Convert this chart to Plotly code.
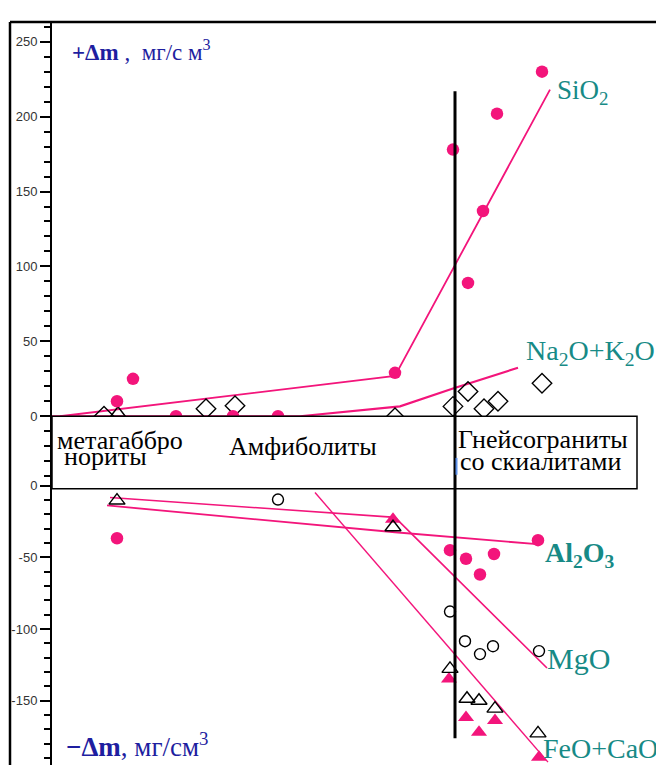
import plotly.graph_objects as go

W, H = 664, 765
OFF = 8  # page body margin of the browser
PINK = "#f3157b"
TEAL = "#178a86"
BLUE = "#1e1ea0"
SERIF = "Liberation Serif"

# ---------------- data (x = position along the profile, arbitrary units) ----------------
# upper panel: gains, +Δm (mg/cm3)
sio2_x = [65, 81, 124, 181, 226, 343, 401, 416, 431, 445, 490]
sio2_y = [10, 25, 0, 0, 0, 29, 178, 89, 137, 202, 230]
sio2_trend_x = [8, 343, 498]
sio2_trend_y = [0, 27, 218]

alk_x = [52, 154, 183, 343, 401, 416, 432, 446, 490]
alk_y = [0, 5, 7, -1, 6.6, 16.5, 5, 10, 22]
alk_trend_x = [0, 248, 348, 401, 466]
alk_trend_y = [0, 0, 6.6, 18.5, 32.4]

feo_up_x = [66]
feo_up_y = [2]

# lower panel: losses, -Δm (mg/cm3)
al2o3_x = [65, 398, 414, 428, 442, 486]
al2o3_y = [-36.7, -45, -51, -62, -47.7, -38]
al2o3_trend_x = [55, 343, 485]
al2o3_trend_y = [-13.8, -32.5, -40.8]

mgo_x = [226, 398, 413, 428, 441, 487]
mgo_y = [-9.7, -87.8, -108.5, -117.5, -112, -115.4]
mgo_trend_x = [58, 343, 495]
mgo_trend_y = [-8.3, -22.1, -127.2]

feo_open_x = [65, 341, 398, 415, 427, 443, 486]
feo_open_y = [-10.4, -29, -127.8, -148.6, -150, -155.5, -172.8]
feo_fill_x = [341, 397, 414, 427, 443, 487]
feo_fill_y = [-23.5, -134.8, -161.7, -172, -163.8, -189.4]
feo_trend_x = [263, 496]
feo_trend_y = [-4.8, -192.8]

BOUNDARY_X = 403

up_ticks = [0, 50, 100, 150, 200, 250]
up_ticktext = ["0", "50", "100", "150", "200", "250"]
low_ticks = [0, -50, -100, -150, -200]
low_ticktext = ["0", "-50", "-100", "-150", "-200"]

# ---------------- figure ----------------
def px(x):
    return (x - OFF) / W

def py(y):
    return 1 - (y - OFF) / H

fig = go.Figure()

def line(x, y, ya, width=1.6):
    fig.add_trace(go.Scatter(x=x, y=y, yaxis=ya, mode="lines",
                             line=dict(color=PINK, width=width), hoverinfo="skip"))

def pts(x, y, ya, symbol, color, size, lw=1.4):
    fig.add_trace(go.Scatter(x=x, y=y, yaxis=ya, mode="markers", cliponaxis=False,
                             marker=dict(symbol=symbol, color=color, size=size,
                                         line=dict(color=color, width=lw))))

# upper
line(alk_trend_x, alk_trend_y, "y", 2.2)
line(sio2_trend_x, sio2_trend_y, "y", 1.8)
pts(alk_x, alk_y, "y", "diamond-open", "black", 15)
pts(feo_up_x, feo_up_y, "y", "triangle-up-open", "black", 13)
pts(sio2_x, sio2_y, "y", "circle", PINK, 12.5, 0)

# lower
line(al2o3_trend_x, al2o3_trend_y, "y2", 1.8)
line(mgo_trend_x, mgo_trend_y, "y2", 1.6)
line(feo_trend_x, feo_trend_y, "y2", 1.4)
pts(al2o3_x, al2o3_y, "y2", "circle", PINK, 12.5, 0)
pts(mgo_x, mgo_y, "y2", "circle-open", "black", 11)
pts(feo_fill_x, feo_fill_y, "y2", "triangle-up", PINK, 14, 0)
pts(feo_open_x, feo_open_y, "y2", "triangle-up-open", "black", 14)

tickfont = dict(family="Liberation Sans", size=13, color="#333333")
common_y = dict(showline=True, linecolor="black", linewidth=2, ticks="outside",
                ticklen=10, tickwidth=1.5, tickcolor="black", showgrid=False,
                zeroline=False, tickfont=tickfont, anchor="x",
                minor=dict(ticks="outside", dtick=10, tick0=0, ticklen=6,
                           tickwidth=1.5, tickcolor="black"))

low_bottom = -(H + OFF - 483) / 1.447

fig.update_layout(
    width=W, height=H, margin=dict(l=0, r=0, t=0, b=0),
    paper_bgcolor="white", plot_bgcolor="white", showlegend=False,
    xaxis=dict(domain=[px(52), 1], range=[0, 620], visible=False, anchor="y2"),
    yaxis=dict(domain=[py(486), py(15)], range=[-48.3, 263.2],
               tickvals=up_ticks, ticktext=up_ticktext, **common_y),
    yaxis2=dict(domain=[0, py(483)], range=[low_bottom, 0],
                tickvals=low_ticks, ticktext=low_ticktext, **common_y),
)

shapes = [
    # frame
    dict(type="line", xref="paper", yref="paper", x0=px(10), x1=1, y0=py(15), y1=py(15),
         line=dict(color="black", width=2.5), layer="above"),
    dict(type="line", xref="paper", yref="paper", x0=px(10), x1=px(10), y0=0, y1=py(15),
         line=dict(color="black", width=2.5), layer="above"),
    # rock-type label box
    dict(type="rect", xref="paper", yref="paper", x0=px(52), x1=px(637),
         y0=py(486), y1=py(413), fillcolor="white",
         line=dict(color="black", width=1.5), layer="above"),
    # boundary between amphibolites and gneiss-granites
    dict(type="line", xref="x", yref="paper", x0=BOUNDARY_X, x1=BOUNDARY_X,
         y0=py(738), y1=py(85), line=dict(color="black", width=3), layer="above"),
    dict(type="line", xref="x", yref="paper", x0=BOUNDARY_X + 1.5, x1=BOUNDARY_X + 1.5,
         y0=py(472), y1=py(455), line=dict(color="#5a8fe8", width=2), layer="above"),
]
fig.update_layout(shapes=shapes)

def ann(text, x, y, size, color):
    fig.add_annotation(xref="paper", yref="paper", x=px(x), y=py(y), text=text,
                       showarrow=False, xanchor="left", yanchor="middle",
                       font=dict(family=SERIF, size=size, color=color))

ann("<b>+Δm</b> ,  мг/с м<sup>3</sup>", 70, 44, 23, BLUE)
ann("<b>−Δm</b>, мг/см<sup>3</sup>", 64, 745, 27, BLUE)

ann("SiO<sub>2</sub>", 555, 86, 27, TEAL)
ann("Na<sub>2</sub>O+K<sub>2</sub>O", 524, 349, 28, TEAL)
ann("<b>Al<sub>2</sub>O<sub>3</sub></b>", 543, 552, 28, TEAL)
ann("MgO", 545, 657, 30, TEAL)
ann("FeO+CaO", 541, 748, 28, TEAL)

ann("метагаббро", 55, 437, 26, "black")
ann("нориты", 62, 454, 26, "black")
ann("Амфиболиты", 227, 443, 26, "black")
ann("Гнейсограниты", 456, 436, 26, "black")
ann("со скиалитами", 458, 459, 26, "black")

fig.write_html("out.html")
